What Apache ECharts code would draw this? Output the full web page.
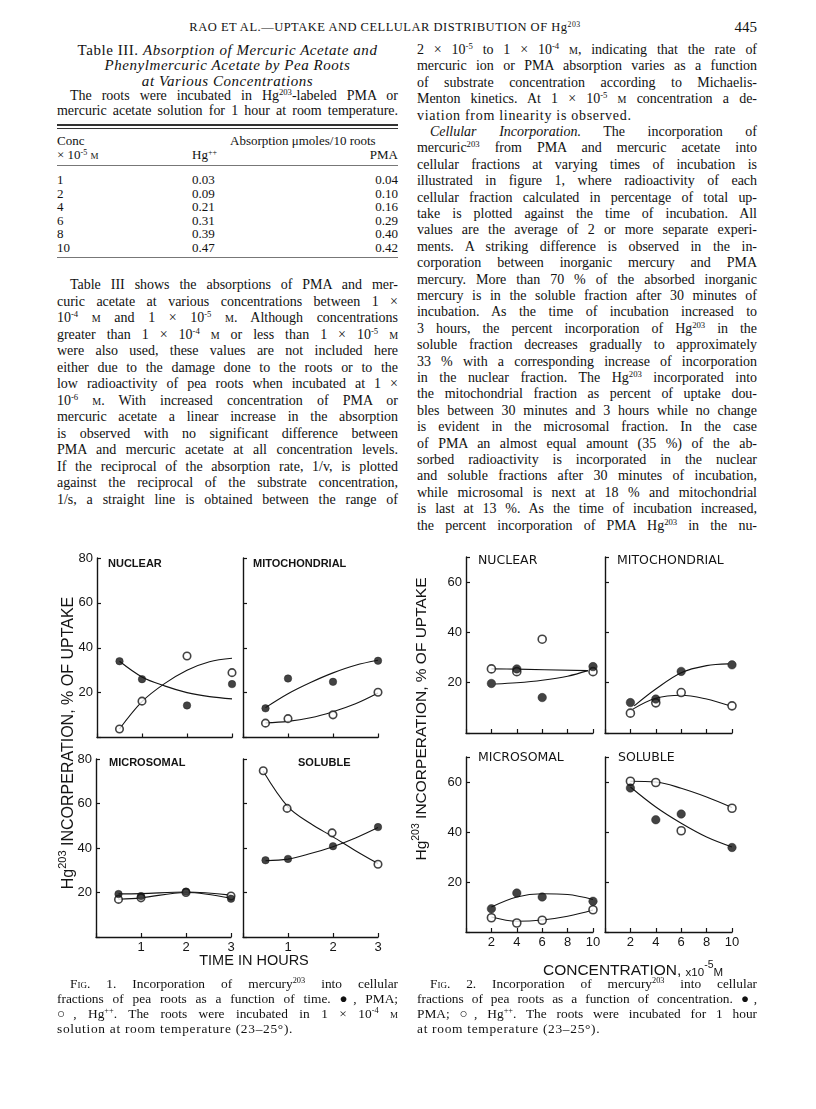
<!DOCTYPE html>
<html><head><meta charset="utf-8">
<script src="https://cdn.jsdelivr.net/npm/echarts@6.0.0/dist/echarts.min.js"></script>
<style>
html,body{margin:0;padding:0;background:#fff;}
#page{position:relative;width:816px;height:1109px;overflow:hidden;font-family:"Liberation Serif","DejaVu Serif",serif;color:#111;background:#fff;}
.ln{position:absolute;height:16px;line-height:16px;font-size:14px;overflow:visible;white-space:nowrap;}
.j{text-align:justify;text-align-last:justify;}
.l{text-align:left;}
.c{text-align:center;}
.r{text-align:right;}
.ind{text-indent:13px;}
sup{font-size:0.62em;vertical-align:0.55em;line-height:0;}
.sc{font-variant:small-caps;}
.rule{position:absolute;left:57px;width:341px;border-top:1px solid #333;height:0;}
#chart{position:absolute;left:0;top:540px;width:816px;height:450px;}
</style>
</head><body>
<div id="page">
<div class="ln c" style="left:150px;width:470px;top:19px;font-size:12.5px;letter-spacing:0.5px;">RAO ET AL.—UPTAKE AND CELLULAR DISTRIBUTION OF Hg<sup>203</sup></div>
<div class="ln r" style="left:700px;width:57px;top:19px;font-size:15px;">445</div>
<div class="rule" style="top:124px;border-top:2px solid #333;"></div>
<div class="rule" style="top:128px;"></div>
<div class="rule" style="top:165px;border-top:1px solid #777;"></div>
<div class="rule" style="top:257px;border-top:1px solid #777;"></div>
<div id="chart"></div>
</div>
<script>
// ---------------- data: Fig. 1 (time course, hours) ----------------
const fig1Times = [0.5, 1, 2, 3];
const fig1CurveTimes = [0.5, 1, 1.5, 2, 2.5, 3];
const fig1NuclearPMA = [34, 26, 14.3, 23.8];
const fig1NuclearHg = [3.8, 16.2, 36.3, 28.9];
const fig1NuclearPMACurve = [34, 27, 23, 20, 18.2, 17.2];
const fig1NuclearHgCurve = [3.8, 16, 24, 30, 33.8, 35.3];
const fig1MitoPMA = [13, 26.3, 24.8, 34.2];
const fig1MitoHg = [6.4, 8.4, 10.1, 20.2];
const fig1MitoPMACurve = [13.3, 19.5, 24.5, 28.8, 32.2, 34.4];
const fig1MitoHgCurve = [6.5, 7.2, 8.8, 11.5, 15, 19.8];
const fig1MicroPMA = [19.3, 18.4, 20.4, 17.2];
const fig1MicroHg = [16.9, 17.6, 20, 18.4];
const fig1MicroPMALine = [19.4, 19.5, 20.2, 18.8];
const fig1MicroHgLine = [17, 17.6, 20, 17.4];
const fig1SolubleHgTimes = [0.45, 0.98, 1.98, 3];
const fig1SolubleHg = [74.7, 57.8, 46.8, 32.7];
const fig1SolublePMA = [34.5, 35.1, 40.8, 49.4];
const fig1SolubleHgCurveTimes = [0.45, 1, 1.5, 2, 2.5, 3];
const fig1SolubleHgCurve = [74.5, 58.5, 51, 45, 38.8, 33];
const fig1SolublePMACurve = [34.3, 35, 37.5, 40.6, 44.5, 49.2];
// ---------------- data: Fig. 2 (concentration, x10^-5 M) ----------------
const fig2Conc = [2, 4, 6, 10];
const fig2CurveConc = [2, 4, 6, 8, 10];
const fig2NuclearPMA = [19.7, 25.5, 14.1, 26.4];
const fig2NuclearHg = [25.5, 24.4, 37.3, 24.4];
const fig2NuclearHgLineConc = [2, 4, 9.6];
const fig2NuclearHgLine = [25.5, 25.4, 24.8];
const fig2NuclearPMACurveConc = [2.3, 4, 6, 8, 9.6];
const fig2NuclearPMACurve = [19.5, 20, 21, 22.6, 24.8];
const fig2MitoPMA = [12.1, 13.5, 24.5, 27.1];
const fig2MitoHg = [7.9, 12, 16.1, 10.8];
const fig2MitoPMACurveConc = [2.3, 4, 6, 8, 9.7];
const fig2MitoPMACurve = [10.8, 17.5, 24, 26.8, 27.5];
const fig2MitoHgCurveConc = [2.2, 4, 6, 8, 9.7];
const fig2MitoHgCurve = [9.5, 13.8, 15, 13.5, 11];
const fig2MicroPMA = [9.3, 15.6, 14, 12.3];
const fig2MicroHg = [5.7, 3.6, 4.7, 8.9];
const fig2MicroPMACurve = [10, 14, 15.3, 15, 13];
const fig2MicroHgCurve = [6, 4.3, 4.8, 6.3, 8.8];
const fig2SolubleHg = [60.3, 59.8, 40.5, 49.5];
const fig2SolublePMA = [57.6, 44.9, 47.2, 33.8];
const fig2SolubleHgCurve = [60.3, 60, 57.5, 54, 49.8];
const fig2SolublePMACurve = [58, 50, 43.5, 38, 34];
// ---------------- tick labels / texts ----------------
const fig1YTicks = [20, 40, 60, 80];
const fig1XTicks = [1, 2, 3];
const fig2YTicks = [20, 40, 60];
const fig2XTicks = [2, 4, 6, 8, 10];
const panelTitles = ['NUCLEAR', 'MITOCHONDRIAL', 'MICROSOMAL', 'SOLUBLE'];

const tableConc = ['1', '2', '4', '6', '8', '10'];
const tableHg = ['0.03', '0.09', '0.21', '0.31', '0.39', '0.47'];
const tablePMA = ['0.04', '0.10', '0.16', '0.29', '0.40', '0.42'];

// ---------------- page text ----------------
const page = document.getElementById('page');
function addLines(left, width, top0, step, lines, size, spacing) {
  lines.forEach((l, i) => {
    const d = document.createElement('div');
    const cls = l[1] || 'j';
    d.className = 'ln ' + cls;
    d.style.left = left + 'px';
    d.style.width = width + 'px';
    d.style.top = (top0 + i * step - 8) + 'px';
    if (size) d.style.fontSize = size + 'px';
    d.innerHTML = '<span>' + l[0] + '</span>';
    page.appendChild(d);
    if (spacing !== undefined) { d.style.letterSpacing = spacing + 'px'; return; }
    const sp = d.firstChild;
    const ind = cls.indexOf('ind') >= 0 ? 13 : 0;
    const w = sp.getBoundingClientRect().width + ind;
    const n = Math.max(1, sp.textContent.length);
    if (w > width - 1) {
      d.style.letterSpacing = ((width - 1 - w) / n) + 'px';
    } else if (cls.indexOf('j') >= 0 || l[2]) {
      d.style.letterSpacing = Math.min(0.7, (width - w) / n * 0.5) + 'px';
    }
    if (cls.indexOf('j') >= 0) d.style.whiteSpace = 'normal';
  });
}
const M = '<span class="sc">m</span>';
addLines(57, 341, 50, 15.3, [
  ['Table III. <i>Absorption of Mercuric Acetate and</i>', 'c'],
  ['<i>Phenylmercuric Acetate by Pea Roots</i>', 'c'],
  ['<i>at Various Concentrations</i>', 'c']
], 15, 0.55);
addLines(57, 341, 96, 15.3, [
  ['The roots were incubated in Hg<sup>203</sup>-labeled PMA or', 'j ind'],
  ['mercuric acetate solution for 1 hour at room temperature.', 'j']
], 14);
addLines(57, 341, 141, 14, [['Conc', 'l'], ['× 10<sup>-5</sup> ' + M, 'l']], 13);
addLines(230, 172, 141, 14, [['Absorption μmoles/10 roots', 'l']], 13);
addLines(192, 40, 155, 14, [['Hg<sup>++</sup>', 'l']], 13);
addLines(340, 58, 155, 14, [['PMA', 'r']], 13);
addLines(57, 40, 180, 13.5, tableConc.map(v => [v, 'l']), 13);
addLines(192, 50, 180, 13.5, tableHg.map(v => [v, 'l']), 13);
addLines(340, 58, 180, 13.5, tablePMA.map(v => [v, 'r']), 13);

addLines(57, 341, 285, 16.5, [
  ['Table III shows the absorptions of PMA and mer-', 'j ind'],
  ['curic acetate at various concentrations between 1 ×'],
  ['10<sup>-4</sup> ' + M + ' and 1 × 10<sup>-5</sup> ' + M + '. Although concentrations'],
  ['greater than 1 × 10<sup>-4</sup> ' + M + ' or less than 1 × 10<sup>-5</sup> ' + M],
  ['were also used, these values are not included here'],
  ['either due to the damage done to the roots or to the'],
  ['low radioactivity of pea roots when incubated at 1 ×'],
  ['10<sup>-6</sup> ' + M + '. With increased concentration of PMA or'],
  ['mercuric acetate a linear increase in the absorption'],
  ['is observed with no significant difference between'],
  ['PMA and mercuric acetate at all concentration levels.'],
  ['If the reciprocal of the absorption rate, 1/v, is plotted'],
  ['against the reciprocal of the substrate concentration,'],
  ['1/s, a straight line is obtained between the range of']
]);
addLines(417, 340, 50, 16.4, [
  ['2 × 10<sup>-5</sup> to 1 × 10<sup>-4</sup> ' + M + ', indicating that the rate of'],
  ['mercuric ion or PMA absorption varies as a function'],
  ['of substrate concentration according to Michaelis-'],
  ['Menton kinetics. At 1 × 10<sup>-5</sup> ' + M + ' concentration a de-'],
  ['viation from linearity is observed.', 'l', true],
  ['<i>Cellular Incorporation.</i> The incorporation of', 'j ind'],
  ['mercuric<sup>203</sup> from PMA and mercuric acetate into'],
  ['cellular fractions at varying times of incubation is'],
  ['illustrated in figure 1, where radioactivity of each'],
  ['cellular fraction calculated in percentage of total up-'],
  ['take is plotted against the time of incubation. All'],
  ['values are the average of 2 or more separate experi-'],
  ['ments. A striking difference is observed in the in-'],
  ['corporation between inorganic mercury and PMA'],
  ['mercury. More than 70 % of the absorbed inorganic'],
  ['mercury is in the soluble fraction after 30 minutes of'],
  ['incubation. As the time of incubation increased to'],
  ['3 hours, the percent incorporation of Hg<sup>203</sup> in the'],
  ['soluble fraction decreases gradually to approximately'],
  ['33 % with a corresponding increase of incorporation'],
  ['in the nuclear fraction. The Hg<sup>203</sup> incorporated into'],
  ['the mitochondrial fraction as percent of uptake dou-'],
  ['bles between 30 minutes and 3 hours while no change'],
  ['is evident in the microsomal fraction. In the case'],
  ['of PMA an almost equal amount (35 %) of the ab-'],
  ['sorbed radioactivity is incorporated in the nuclear'],
  ['and soluble fractions after 30 minutes of incubation,'],
  ['while microsomal is next at 18 % and mitochondrial'],
  ['is last at 13 %. As the time of incubation increased,'],
  ['the percent incorporation of PMA Hg<sup>203</sup> in the nu-']
]);
addLines(57, 341, 984, 15, [
  ['<span class="sc">Fig.</span> 1. Incorporation of mercury<sup>203</sup> into cellular', 'j ind'],
  ['fractions of pea roots as a function of time. ●, PMA;'],
  ['○, Hg<sup>++</sup>. The roots were incubated in 1 × 10<sup>-4</sup> ' + M],
  ['solution at room temperature (23–25°).', 'l', true]
], 13.4);
addLines(417, 340, 984, 15, [
  ['<span class="sc">Fig.</span> 2. Incorporation of mercury<sup>203</sup> into cellular', 'j ind'],
  ['fractions of pea roots as a function of concentration. ●,'],
  ['PMA; ○, Hg<sup>++</sup>. The roots were incubated for 1 hour'],
  ['at room temperature (23–25°).', 'l', true]
], 13.4);

// ---------------- chart ----------------
const INK = '#141414';
const SANS = '"Liberation Sans", Arial, sans-serif';
const pts = (xs, ys) => xs.map((x, i) => [x, ys[i]]);

const panels = [
  {left: 97, top: 18, width: 135, height: 179.5, fig: 1, xl: false, yl: true},
  {left: 243, top: 18, width: 135, height: 179.5, fig: 1, xl: false, yl: false},
  {left: 96, top: 219, width: 135, height: 178, fig: 1, xl: true, yl: true},
  {left: 243, top: 219, width: 135, height: 178, fig: 1, xl: true, yl: false},
  {left: 466, top: 17, width: 127, height: 176, fig: 2, xl: false, yl: true},
  {left: 605, top: 17, width: 127, height: 176, fig: 2, xl: false, yl: false},
  {left: 466, top: 217, width: 127, height: 175, fig: 2, xl: true, yl: true},
  {left: 605, top: 217, width: 127, height: 175, fig: 2, xl: true, yl: false}
];

const grid = [], xAxis = [], yAxis = [];
panels.forEach((p, i) => {
  grid.push({left: p.left, top: p.top, width: p.width, height: p.height, containLabel: false, outerBoundsMode: 'none'});
  const f1 = p.fig === 1;
  const xt = f1 ? fig1XTicks : fig2XTicks;
  const yt = f1 ? fig1YTicks : fig2YTicks;
  xAxis.push({
    type: 'value', gridIndex: i, min: 0, max: f1 ? 3 : 10, interval: f1 ? 1 : 2,
    axisLine: {show: true, lineStyle: {color: INK, width: 1.4}},
    axisTick: {show: true, inside: true, length: 4, lineStyle: {color: INK, width: 1.2}},
    axisLabel: {show: p.xl, margin: 4, color: INK, fontFamily: SANS, fontSize: 13,
      formatter: v => (xt.indexOf(v) >= 0 ? String(v) : '')},
    splitLine: {show: false}
  });
  yAxis.push({
    type: 'value', gridIndex: i, min: 0, max: f1 ? 80 : 70, interval: 20,
    axisLine: {show: true, lineStyle: {color: INK, width: 1.4}},
    axisTick: {show: true, inside: true, length: 4, lineStyle: {color: INK, width: 1.2}},
    axisLabel: {show: p.yl, margin: 4, color: INK, fontFamily: SANS, fontSize: 13,
      formatter: v => (yt.indexOf(v) >= 0 ? String(v) : '')},
    splitLine: {show: false}
  });
});

const series = [];
function curve(i, data) {
  series.push({type: 'line', xAxisIndex: i, yAxisIndex: i, data: data, smooth: 0.35,
    showSymbol: false, symbol: 'none', lineStyle: {color: INK, width: 1.1}, z: 2, silent: true});
}
function dots(i, data, filled, size) {
  series.push({type: 'scatter', xAxisIndex: i, yAxisIndex: i, data: data, symbol: 'circle',
    symbolSize: size,
    itemStyle: filled ? {color: INK, borderColor: INK, borderWidth: 0.5}
                      : {color: '#fff', borderColor: INK, borderWidth: 1.6},
    z: filled ? 4 : 3, silent: true});
}
// Fig. 1
curve(0, pts(fig1CurveTimes, fig1NuclearPMACurve));
curve(0, pts(fig1CurveTimes, fig1NuclearHgCurve));
dots(0, pts(fig1Times, fig1NuclearHg), false, 7.5);
dots(0, pts(fig1Times, fig1NuclearPMA), true, 7.5);
curve(1, pts(fig1CurveTimes, fig1MitoPMACurve));
curve(1, pts(fig1CurveTimes, fig1MitoHgCurve));
dots(1, pts(fig1Times, fig1MitoHg), false, 7.5);
dots(1, pts(fig1Times, fig1MitoPMA), true, 7.5);
curve(2, pts(fig1Times, fig1MicroPMALine));
curve(2, pts(fig1Times, fig1MicroHgLine));
dots(2, pts(fig1Times, fig1MicroHg), false, 7.5);
dots(2, pts(fig1Times, fig1MicroPMA), true, 7.5);
curve(3, pts(fig1SolubleHgCurveTimes, fig1SolubleHgCurve));
curve(3, pts(fig1CurveTimes, fig1SolublePMACurve));
dots(3, pts(fig1SolubleHgTimes, fig1SolubleHg), false, 7.5);
dots(3, pts(fig1Times, fig1SolublePMA), true, 7.5);
// Fig. 2
curve(4, pts(fig2NuclearHgLineConc, fig2NuclearHgLine));
curve(4, pts(fig2NuclearPMACurveConc, fig2NuclearPMACurve));
dots(4, pts(fig2Conc, fig2NuclearHg), false, 8);
dots(4, pts(fig2Conc, fig2NuclearPMA), true, 8.5);
curve(5, pts(fig2MitoPMACurveConc, fig2MitoPMACurve));
curve(5, pts(fig2MitoHgCurveConc, fig2MitoHgCurve));
dots(5, pts(fig2Conc, fig2MitoHg), false, 8);
dots(5, pts(fig2Conc, fig2MitoPMA), true, 8.5);
curve(6, pts(fig2CurveConc, fig2MicroPMACurve));
curve(6, pts(fig2CurveConc, fig2MicroHgCurve));
dots(6, pts(fig2Conc, fig2MicroHg), false, 8);
dots(6, pts(fig2Conc, fig2MicroPMA), true, 8.5);
curve(7, pts(fig2CurveConc, fig2SolubleHgCurve));
curve(7, pts(fig2CurveConc, fig2SolublePMACurve));
dots(7, pts(fig2Conc, fig2SolubleHg), false, 8);
dots(7, pts(fig2Conc, fig2SolublePMA), true, 8.5);

function label(text, x, y, size, weight, fam, align) {
  return {type: 'text', x: x, y: y, silent: true, z: 10,
    style: {text: text, fill: INK, fontSize: size, fontWeight: weight || 'normal',
      fontFamily: fam || SANS, align: align || 'left', verticalAlign: 'middle'}};
}
const DJ = '"DejaVu Sans", sans-serif';
const graphic = [
  label(panelTitles[0], 108, 24, 11, 'bold'),
  label(panelTitles[1], 253, 24, 11, 'bold'),
  label(panelTitles[2], 109, 223, 11, 'bold'),
  label(panelTitles[3], 298, 223, 11, 'bold'),
  label(panelTitles[0], 478, 21, 12.5, 'normal', DJ),
  label(panelTitles[1], 617, 21, 12.5, 'normal', DJ),
  label(panelTitles[2], 478, 218, 12.5, 'normal', DJ),
  label(panelTitles[3], 618, 218, 12.5, 'normal', DJ),
  label('TIME IN HOURS', 254, 421, 14.5, 'normal', SANS, 'center'),
  {type: 'text', x: 633, y: 429, silent: true,
    style: {text: '{n|CONCENTRATION, }{m|x10}{s|-5}{m|M}', align: 'center', verticalAlign: 'middle', fill: INK,
      rich: {n: {fontSize: 15.5, fontFamily: SANS, fill: INK, lineHeight: 19, verticalAlign: 'bottom'},
             m: {fontSize: 11.5, fontFamily: SANS, fill: INK, lineHeight: 19, verticalAlign: 'bottom'},
             s: {fontSize: 10.5, fontFamily: SANS, fill: INK, lineHeight: 19, verticalAlign: 'top'}}}},
  {type: 'text', x: 67, y: 203, rotation: Math.PI / 2, silent: true,
    style: {text: '{n|Hg}{s|203}{n| INCORPERATION, % OF UPTAKE}', align: 'center', verticalAlign: 'middle', fill: INK,
      rich: {n: {fontSize: 16, fontFamily: SANS, fill: INK, lineHeight: 20, verticalAlign: 'bottom'},
             s: {fontSize: 11, fontFamily: SANS, fill: INK, lineHeight: 20, verticalAlign: 'top'}}}},
  {type: 'text', x: 420, y: 179, rotation: Math.PI / 2, silent: true,
    style: {text: '{n|Hg}{s|203}{n| INCORPERATION, % OF UPTAKE}', align: 'center', verticalAlign: 'middle', fill: INK,
      rich: {n: {fontSize: 15.5, fontFamily: SANS, fill: INK, lineHeight: 19, verticalAlign: 'bottom'},
             s: {fontSize: 10.5, fontFamily: SANS, fill: INK, lineHeight: 19, verticalAlign: 'top'}}}}
];

const chart = echarts.init(document.getElementById('chart'), null, {renderer: 'canvas'});
chart.setOption({
  animation: false,
  backgroundColor: 'transparent',
  grid: grid, xAxis: xAxis, yAxis: yAxis, series: series, graphic: graphic
});
</script>
</body></html>
